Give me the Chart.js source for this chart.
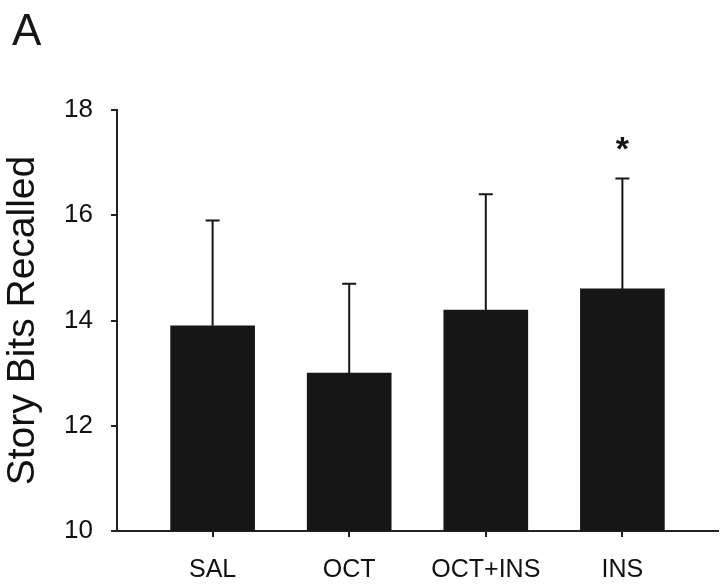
<!DOCTYPE html>
<html>
<head>
<meta charset="utf-8">
<script src="https://cdn.jsdelivr.net/npm/chart.js@4.4.0/dist/chart.umd.min.js"></script>
<style>body{margin:0;background:#fff}</style>
</head>
<body>
<canvas id="chart" width="724" height="585"></canvas>
<script>
const groups = ['SAL', 'OCT', 'OCT+INS', 'INS'];
const recalled = [13.9, 13.0, 14.2, 14.6];
const errors = [2.0, 1.7, 2.2, 2.1];
const marks = ['', '', '', '*'];
const yTicks = [10, 12, 14, 16, 18];
const panel = 'A';

const FONT = '"Liberation Sans", Arial, sans-serif';
const INK = '#161616';

// one-sided error bars + significance star
const errorBars = {
    id: 'errorBars',
    afterDatasetsDraw(chart) {
        const ctx = chart.ctx;
        const yScale = chart.scales.y;
        const meta = chart.getDatasetMeta(0);
        ctx.save();
        ctx.strokeStyle = INK;
        ctx.lineWidth = 2;
        meta.data.forEach((bar, i) => {
            const top = yScale.getPixelForValue(recalled[i] + errors[i]);
            ctx.beginPath();
            ctx.moveTo(bar.x, bar.y);
            ctx.lineTo(bar.x, top);
            ctx.moveTo(bar.x - 7, top);
            ctx.lineTo(bar.x + 7, top);
            ctx.stroke();
            if (marks[i]) {
                ctx.fillStyle = INK;
                ctx.font = 'bold 34px ' + FONT;
                ctx.textAlign = 'center';
                ctx.textBaseline = 'alphabetic';
                ctx.fillText(marks[i], bar.x, top - 18);
            }
        });
        ctx.restore();
    }
};

const panelLabel = {
    id: 'panelLabel',
    afterDraw(chart) {
        const ctx = chart.ctx;
        ctx.save();
        ctx.fillStyle = INK;
        ctx.font = '44px ' + FONT;
        ctx.textAlign = 'left';
        ctx.textBaseline = 'alphabetic';
        ctx.fillText(panel, 12, 45);
        ctx.restore();
    }
};

new Chart(document.getElementById('chart'), {
    type: 'bar',
    data: {
        datasets: [{
            data: recalled.map((v, i) => ({ x: i, y: v })),
            backgroundColor: INK,
            borderWidth: 0,
            barThickness: 84
        }]
    },
    options: {
        responsive: false,
        animation: false,
        layout: { padding: { top: 110, right: 6, left: 0, bottom: 0 } },
        plugins: {
            legend: { display: false },
            tooltip: { enabled: false }
        },
        scales: {
            x: {
                type: 'linear',
                min: -0.7,
                max: 3.7,
                offset: false,
                afterBuildTicks: s => { s.ticks = groups.map((g, i) => ({ value: i })); },
                afterFit: s => { s.height = 54; },
                grid: { display: true, offset: false, drawOnChartArea: false, tickLength: 6, color: '#222', lineWidth: 2 },
                border: { color: '#222', width: 2 },
                ticks: {
                    callback: v => groups[v],
                    font: { family: FONT, size: 25 },
                    color: '#111',
                    padding: 18,
                    maxRotation: 0
                }
            },
            y: {
                min: 10,
                max: 18,
                afterBuildTicks: s => { s.ticks = yTicks.map(v => ({ value: v })); },
                afterFit: s => { s.width = 117; },
                grid: { display: true, drawOnChartArea: false, tickLength: 6, color: '#222', lineWidth: 2 },
                border: { color: '#222', width: 2 },
                ticks: {
                    font: { family: FONT, size: 26 },
                    color: '#111',
                    padding: 18
                },
                title: {
                    display: true,
                    text: 'Story Bits Recalled',
                    font: { family: FONT, size: 39 },
                    color: '#111',
                    padding: 0
                }
            }
        }
    },
    plugins: [errorBars, panelLabel]
});
</script>
</body>
</html>
